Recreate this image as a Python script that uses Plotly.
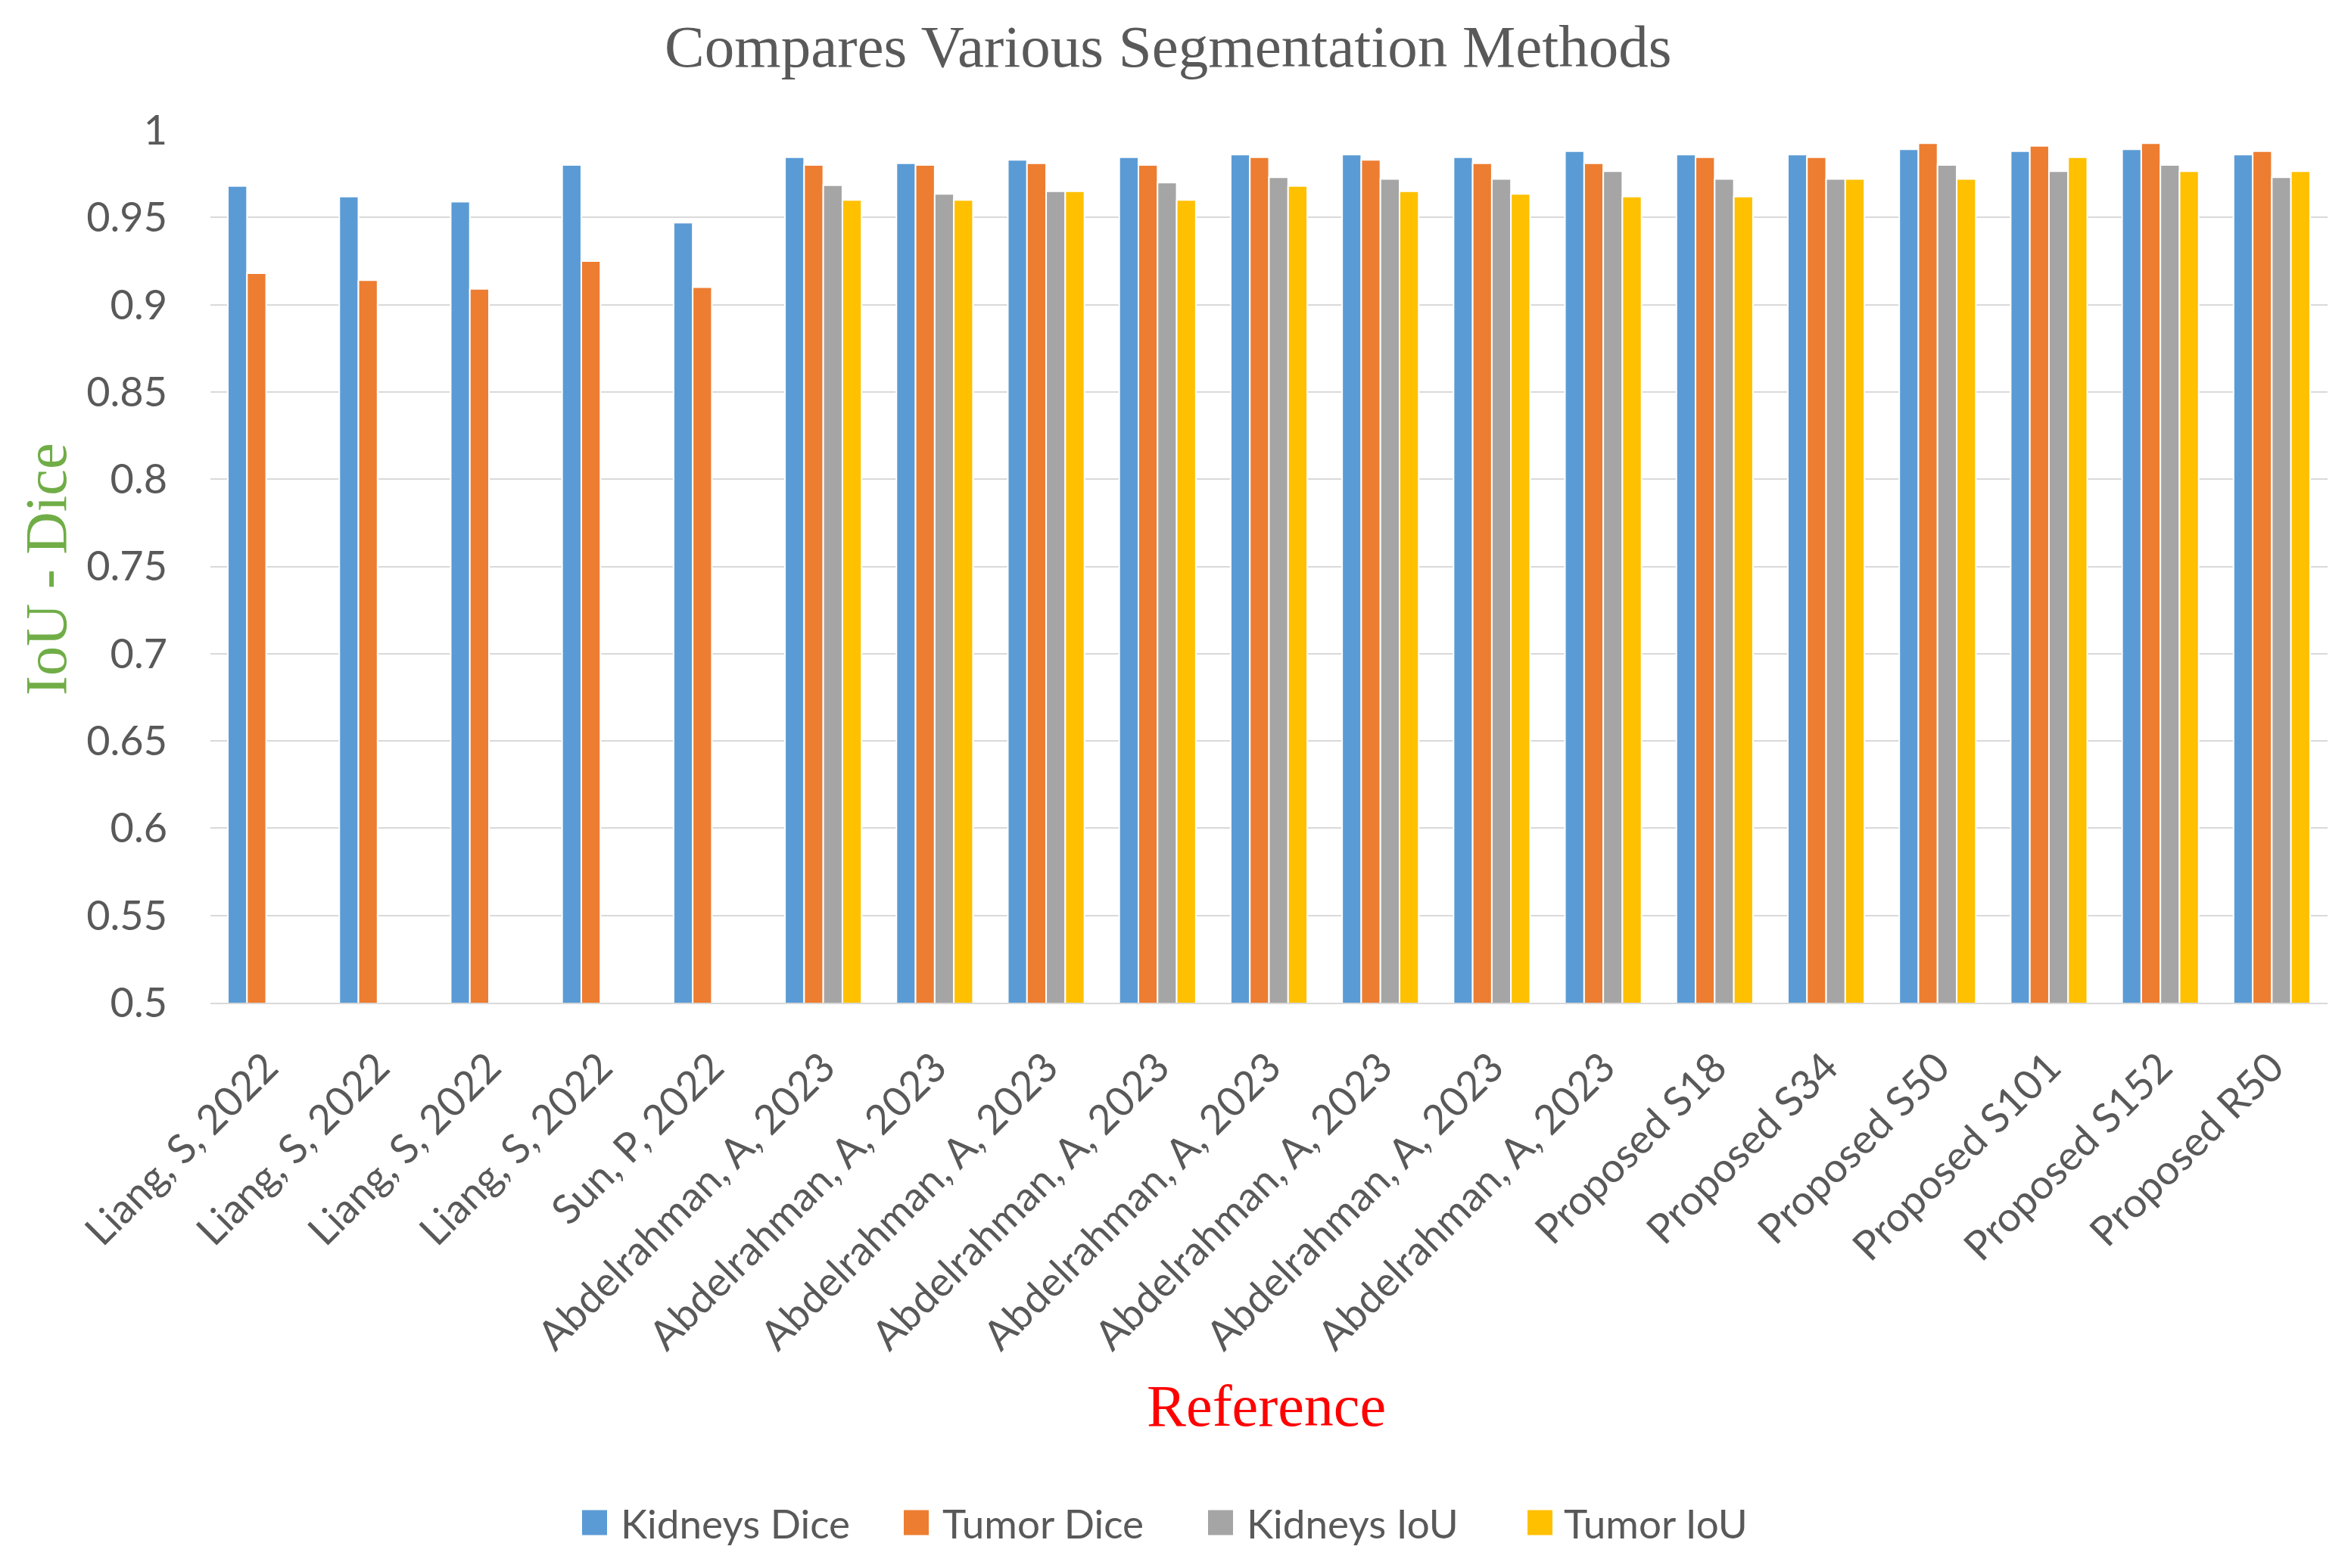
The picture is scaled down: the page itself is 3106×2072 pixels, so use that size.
import plotly.graph_objects as go

# ---------------- data ----------------
categories = [
    "Liang, S, 2022", "Liang, S, 2022", "Liang, S, 2022", "Liang, S, 2022",
    "Sun, P, 2022",
    "Abdelrahman, A, 2023", "Abdelrahman, A, 2023", "Abdelrahman, A, 2023",
    "Abdelrahman, A, 2023", "Abdelrahman, A, 2023", "Abdelrahman, A, 2023",
    "Abdelrahman, A, 2023", "Abdelrahman, A, 2023",
    "Proposed S18", "Proposed S34", "Proposed S50", "Proposed S101",
    "Proposed S152", "Proposed R50",
]
kidneys_dice = [0.968, 0.962, 0.959, 0.980, 0.947,
                0.9845, 0.981, 0.983, 0.9845, 0.986, 0.986, 0.9845, 0.988,
                0.986, 0.986, 0.989, 0.988, 0.989, 0.986]
tumor_dice = [0.918, 0.914, 0.909, 0.925, 0.910,
              0.980, 0.980, 0.981, 0.980, 0.9845, 0.983, 0.981, 0.981,
              0.9845, 0.9845, 0.9925, 0.991, 0.9925, 0.988]
kidneys_iou = [None, None, None, None, None,
               0.9685, 0.9635, 0.965, 0.970, 0.973, 0.972, 0.972, 0.9765,
               0.972, 0.972, 0.980, 0.9765, 0.980, 0.973]
tumor_iou = [None, None, None, None, None,
             0.960, 0.960, 0.965, 0.960, 0.968, 0.965, 0.9635, 0.962,
             0.962, 0.972, 0.972, 0.9845, 0.9765, 0.9765]

series_names = ["Kidneys Dice", "Tumor Dice", "Kidneys IoU", "Tumor IoU"]
series_values = [kidneys_dice, tumor_dice, kidneys_iou, tumor_iou]
series_colors = ["#5B9BD5", "#ED7D31", "#A5A5A5", "#FFC000"]

y_tick_vals = [0.5, 0.55, 0.6, 0.65, 0.7, 0.75, 0.8, 0.85, 0.9, 0.95, 1.0]
y_tick_text = ["0.5", "0.55", "0.6", "0.65", "0.7", "0.75", "0.8", "0.85", "0.9", "0.95", "1"]

chart_title = "Compares Various Segmentation Methods"
y_title = "IoU - Dice"
x_title = "Reference"

# ---------------- layout geometry (pixels) ----------------
W, H = 3106, 2072
L, R, T, B = 278, 31, 172, 747
PW, PH = W - L - R, H - T - B


def px(x):
    return (x - L) / PW


def py(y):
    return (H - B - y) / PH


x_idx = list(range(len(categories)))

fig = go.Figure()
for name, vals, col in zip(series_names, series_values, series_colors):
    fig.add_trace(go.Bar(
        x=x_idx, y=vals, name=name,
        marker=dict(color=col, line=dict(color="white", width=2)),
        showlegend=False,
    ))

tick_font = dict(family="Lato, Carlito, sans-serif", size=54, color="#595959")
legend_font = dict(family="Lato, Carlito, sans-serif", size=53, color="#595959")
serif = "Liberation Serif, Times New Roman, serif"

fig.update_layout(
    width=W, height=H,
    margin=dict(l=L, r=R, t=T, b=B, pad=0),
    paper_bgcolor="white", plot_bgcolor="white",
    barmode="group", bargap=0.313, bargroupgap=0.0,
    showlegend=False,
    xaxis=dict(
        tickmode="array", tickvals=x_idx, ticktext=categories,
        range=[-0.5, len(categories) - 0.5],
        tickangle=-45, tickfont=tick_font,
        showgrid=False, zeroline=False,
        showline=True, linecolor="#D9D9D9", linewidth=2,
        ticks="", ticklabelstandoff=30,
    ),
    yaxis=dict(
        range=[0.5, 1.0], tickmode="array",
        tickvals=y_tick_vals, ticktext=y_tick_text,
        tickfont=tick_font,
        showgrid=True, gridcolor="#D9D9D9", gridwidth=2,
        zeroline=False, showline=False, ticks="",
        ticklabelstandoff=56,
    ),
)

annotations = [
    dict(text=chart_title, x=px(1543), y=py(62), xref="paper", yref="paper",
         xanchor="center", yanchor="middle", showarrow=False,
         font=dict(family=serif, size=79, color="#595959")),
    dict(text=y_title, x=px(60), y=py(752), xref="paper", yref="paper",
         xanchor="center", yanchor="middle", showarrow=False, textangle=-90,
         font=dict(family=serif, size=78, color="#70AD47")),
    dict(text=x_title, x=px(1673), y=py(1857), xref="paper", yref="paper",
         xanchor="center", yanchor="middle", showarrow=False,
         font=dict(family=serif, size=78, color="#FF0000")),
]

# legend drawn as squares + labels
legend_square_x = [769, 1194, 1596, 2018]
legend_text_x = [818, 1243, 1645, 2064]
legend_y = 2012
sq = 33
shapes = []
for name, col, sx, tx in zip(series_names, series_colors, legend_square_x, legend_text_x):
    shapes.append(dict(type="rect", xref="paper", yref="paper",
                       x0=px(sx), x1=px(sx + sq),
                       y0=py(legend_y + sq / 2), y1=py(legend_y - sq / 2),
                       fillcolor=col, line=dict(width=0)))
    annotations.append(dict(text=name, x=px(tx), y=py(legend_y), xref="paper", yref="paper",
                            xanchor="left", yanchor="middle", showarrow=False,
                            font=legend_font))

fig.update_layout(annotations=annotations, shapes=shapes)

fig.write_html("out.html", config={"displayModeBar": False},
               post_script="document.body.style.margin='0';")
